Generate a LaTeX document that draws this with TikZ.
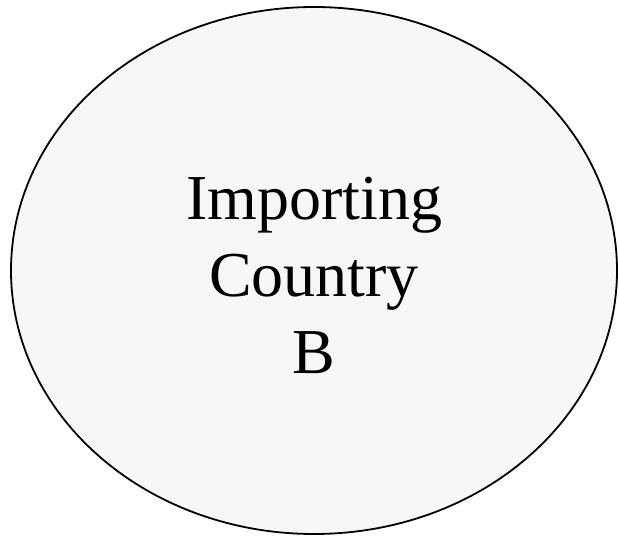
\documentclass[tikz,border=0pt]{standalone}
\usepackage{fontspec}
\setmainfont{Liberation Serif}
\usetikzlibrary{shapes.geometric}
\begin{document}
\begin{tikzpicture}[x=1pt,y=-1pt,
  country/.style={draw=black,line width=1.8pt,fill=black!3},
  label/.style={align=center,inner sep=0pt,font=\fontsize{64}{77}\selectfont}]
\useasboundingbox (0,0) rectangle (619,537);
\node[country,ellipse,minimum width=606pt,minimum height=527pt,inner sep=0pt] (b) at (314,270.5) {};
\node[label] (t) at (314,275) {Importing\\Country\\B};
\end{tikzpicture}
\end{document}
